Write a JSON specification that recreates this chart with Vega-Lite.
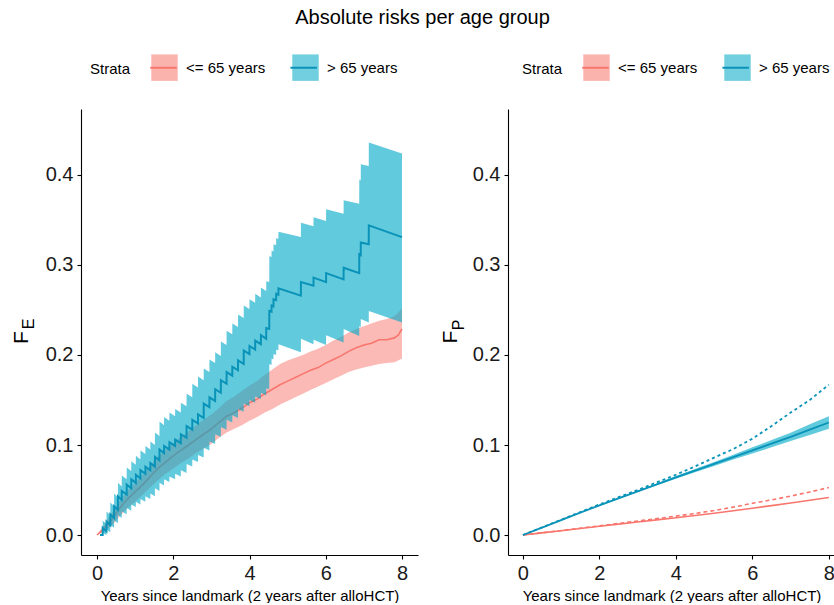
{
"$schema": "https://vega.github.io/schema/vega-lite/v6.json",
"padding": {"left": 10, "top": 8, "right": 0, "bottom": 0},
"title": {"text": "Absolute risks per age group", "fontSize": 20, "fontWeight": "normal", "color": "#000", "anchor": "middle", "offset": 25},
"config": {
 "font": "Liberation Sans",
 "view": {"stroke": null},
 "axis": {"domainColor": "#000", "domainWidth": 1.1, "tickColor": "#000", "tickWidth": 1.1, "tickSize": 4, "labelFontSize": 20, "labelColor": "#1a1a1a", "grid": false, "titleFontWeight": "normal", "titleColor": "#000", "labelPadding": 4},
 "legend": {"titleFontSize": 15, "titleFontWeight": "normal", "titleColor": "#000", "labelFontSize": 15, "labelColor": "#000", "titleOrient": "left", "titleAnchor": "middle", "titleBaseline": "middle", "titlePadding": 19, "labelOffset": 7, "columnPadding": 22, "symbolSize": 700, "direction": "horizontal", "orient": "none", "padding": 0}
},
"datasets": {
 "fe": [
  {"t":0,"s":"<= 65 years","est":0,"lo":0,"hi":0},
  {"t":0.2,"s":"<= 65 years","est":0.008,"lo":0.004,"hi":0.012},
  {"t":0.4,"s":"<= 65 years","est":0.018,"lo":0.011,"hi":0.025},
  {"t":0.6,"s":"<= 65 years","est":0.030,"lo":0.021,"hi":0.038},
  {"t":0.8,"s":"<= 65 years","est":0.040,"lo":0.030,"hi":0.049},
  {"t":1.0,"s":"<= 65 years","est":0.048,"lo":0.037,"hi":0.058},
  {"t":1.2,"s":"<= 65 years","est":0.056,"lo":0.045,"hi":0.067},
  {"t":1.4,"s":"<= 65 years","est":0.065,"lo":0.053,"hi":0.077},
  {"t":1.6,"s":"<= 65 years","est":0.074,"lo":0.061,"hi":0.087},
  {"t":1.8,"s":"<= 65 years","est":0.081,"lo":0.068,"hi":0.095},
  {"t":2.0,"s":"<= 65 years","est":0.088,"lo":0.074,"hi":0.102},
  {"t":2.2,"s":"<= 65 years","est":0.094,"lo":0.080,"hi":0.109},
  {"t":2.4,"s":"<= 65 years","est":0.100,"lo":0.085,"hi":0.115},
  {"t":2.6,"s":"<= 65 years","est":0.106,"lo":0.091,"hi":0.122},
  {"t":2.8,"s":"<= 65 years","est":0.112,"lo":0.096,"hi":0.128},
  {"t":3.0,"s":"<= 65 years","est":0.118,"lo":0.101,"hi":0.134},
  {"t":3.2,"s":"<= 65 years","est":0.125,"lo":0.108,"hi":0.141},
  {"t":3.4,"s":"<= 65 years","est":0.132,"lo":0.114,"hi":0.149},
  {"t":3.6,"s":"<= 65 years","est":0.136,"lo":0.118,"hi":0.154},
  {"t":3.8,"s":"<= 65 years","est":0.141,"lo":0.122,"hi":0.160},
  {"t":4.0,"s":"<= 65 years","est":0.147,"lo":0.127,"hi":0.166},
  {"t":4.2,"s":"<= 65 years","est":0.151,"lo":0.131,"hi":0.171},
  {"t":4.4,"s":"<= 65 years","est":0.157,"lo":0.136,"hi":0.178},
  {"t":4.6,"s":"<= 65 years","est":0.162,"lo":0.140,"hi":0.184},
  {"t":4.8,"s":"<= 65 years","est":0.167,"lo":0.145,"hi":0.190},
  {"t":5.0,"s":"<= 65 years","est":0.171,"lo":0.149,"hi":0.194},
  {"t":5.2,"s":"<= 65 years","est":0.175,"lo":0.153,"hi":0.197},
  {"t":5.4,"s":"<= 65 years","est":0.179,"lo":0.157,"hi":0.200},
  {"t":5.6,"s":"<= 65 years","est":0.183,"lo":0.161,"hi":0.204},
  {"t":5.8,"s":"<= 65 years","est":0.186,"lo":0.165,"hi":0.207},
  {"t":6.0,"s":"<= 65 years","est":0.191,"lo":0.169,"hi":0.211},
  {"t":6.2,"s":"<= 65 years","est":0.195,"lo":0.173,"hi":0.216},
  {"t":6.4,"s":"<= 65 years","est":0.199,"lo":0.177,"hi":0.220},
  {"t":6.6,"s":"<= 65 years","est":0.204,"lo":0.181,"hi":0.225},
  {"t":6.8,"s":"<= 65 years","est":0.208,"lo":0.184,"hi":0.229},
  {"t":7.0,"s":"<= 65 years","est":0.211,"lo":0.186,"hi":0.232},
  {"t":7.2,"s":"<= 65 years","est":0.213,"lo":0.188,"hi":0.235},
  {"t":7.4,"s":"<= 65 years","est":0.217,"lo":0.190,"hi":0.238},
  {"t":7.6,"s":"<= 65 years","est":0.217,"lo":0.191,"hi":0.240},
  {"t":7.8,"s":"<= 65 years","est":0.219,"lo":0.192,"hi":0.243},
  {"t":7.9,"s":"<= 65 years","est":0.222,"lo":0.194,"hi":0.247},
  {"t":8.0,"s":"<= 65 years","est":0.229,"lo":0.196,"hi":0.252},
  {"t":0.08,"s":"> 65 years","est":0,"lo":0,"hi":0},
  {"t":0.148,"s":"> 65 years","est":0,"lo":0,"hi":0},
  {"t":0.15,"s":"> 65 years","est":0.008,"lo":0.002,"hi":0.016},
  {"t":0.248,"s":"> 65 years","est":0.004,"lo":0.000,"hi":0.012},
  {"t":0.25,"s":"> 65 years","est":0.015,"lo":0.006,"hi":0.026},
  {"t":0.348,"s":"> 65 years","est":0.011,"lo":0.003,"hi":0.022},
  {"t":0.35,"s":"> 65 years","est":0.023,"lo":0.011,"hi":0.036},
  {"t":0.448,"s":"> 65 years","est":0.019,"lo":0.008,"hi":0.032},
  {"t":0.45,"s":"> 65 years","est":0.032,"lo":0.016,"hi":0.046},
  {"t":0.548,"s":"> 65 years","est":0.028,"lo":0.013,"hi":0.042},
  {"t":0.55,"s":"> 65 years","est":0.043,"lo":0.022,"hi":0.058},
  {"t":0.648,"s":"> 65 years","est":0.039,"lo":0.019,"hi":0.054},
  {"t":0.65,"s":"> 65 years","est":0.049,"lo":0.026,"hi":0.066},
  {"t":0.778,"s":"> 65 years","est":0.045,"lo":0.023,"hi":0.062},
  {"t":0.78,"s":"> 65 years","est":0.056,"lo":0.030,"hi":0.075},
  {"t":0.898,"s":"> 65 years","est":0.052,"lo":0.027,"hi":0.071},
  {"t":0.90,"s":"> 65 years","est":0.062,"lo":0.034,"hi":0.082},
  {"t":1.018,"s":"> 65 years","est":0.058,"lo":0.031,"hi":0.078},
  {"t":1.02,"s":"> 65 years","est":0.067,"lo":0.037,"hi":0.088},
  {"t":1.138,"s":"> 65 years","est":0.063,"lo":0.034,"hi":0.084},
  {"t":1.14,"s":"> 65 years","est":0.072,"lo":0.040,"hi":0.094},
  {"t":1.268,"s":"> 65 years","est":0.068,"lo":0.037,"hi":0.090},
  {"t":1.27,"s":"> 65 years","est":0.076,"lo":0.043,"hi":0.099},
  {"t":1.398,"s":"> 65 years","est":0.072,"lo":0.040,"hi":0.095},
  {"t":1.40,"s":"> 65 years","est":0.080,"lo":0.046,"hi":0.104},
  {"t":1.518,"s":"> 65 years","est":0.076,"lo":0.043,"hi":0.100},
  {"t":1.52,"s":"> 65 years","est":0.087,"lo":0.052,"hi":0.114},
  {"t":1.638,"s":"> 65 years","est":0.083,"lo":0.049,"hi":0.110},
  {"t":1.64,"s":"> 65 years","est":0.095,"lo":0.058,"hi":0.126},
  {"t":1.758,"s":"> 65 years","est":0.091,"lo":0.055,"hi":0.122},
  {"t":1.76,"s":"> 65 years","est":0.099,"lo":0.062,"hi":0.131},
  {"t":1.898,"s":"> 65 years","est":0.095,"lo":0.059,"hi":0.127},
  {"t":1.90,"s":"> 65 years","est":0.103,"lo":0.065,"hi":0.136},
  {"t":2.048,"s":"> 65 years","est":0.099,"lo":0.062,"hi":0.132},
  {"t":2.05,"s":"> 65 years","est":0.106,"lo":0.068,"hi":0.140},
  {"t":2.198,"s":"> 65 years","est":0.102,"lo":0.065,"hi":0.136},
  {"t":2.20,"s":"> 65 years","est":0.112,"lo":0.072,"hi":0.147},
  {"t":2.348,"s":"> 65 years","est":0.108,"lo":0.069,"hi":0.143},
  {"t":2.35,"s":"> 65 years","est":0.121,"lo":0.079,"hi":0.157},
  {"t":2.498,"s":"> 65 years","est":0.117,"lo":0.076,"hi":0.153},
  {"t":2.50,"s":"> 65 years","est":0.128,"lo":0.084,"hi":0.168},
  {"t":2.648,"s":"> 65 years","est":0.124,"lo":0.081,"hi":0.164},
  {"t":2.65,"s":"> 65 years","est":0.134,"lo":0.089,"hi":0.176},
  {"t":2.798,"s":"> 65 years","est":0.130,"lo":0.086,"hi":0.172},
  {"t":2.80,"s":"> 65 years","est":0.146,"lo":0.097,"hi":0.185},
  {"t":2.948,"s":"> 65 years","est":0.142,"lo":0.094,"hi":0.181},
  {"t":2.95,"s":"> 65 years","est":0.153,"lo":0.104,"hi":0.195},
  {"t":3.098,"s":"> 65 years","est":0.149,"lo":0.101,"hi":0.191},
  {"t":3.10,"s":"> 65 years","est":0.162,"lo":0.112,"hi":0.203},
  {"t":3.248,"s":"> 65 years","est":0.158,"lo":0.109,"hi":0.199},
  {"t":3.25,"s":"> 65 years","est":0.172,"lo":0.120,"hi":0.215},
  {"t":3.398,"s":"> 65 years","est":0.168,"lo":0.117,"hi":0.211},
  {"t":3.40,"s":"> 65 years","est":0.181,"lo":0.128,"hi":0.227},
  {"t":3.548,"s":"> 65 years","est":0.177,"lo":0.125,"hi":0.223},
  {"t":3.55,"s":"> 65 years","est":0.187,"lo":0.133,"hi":0.235},
  {"t":3.698,"s":"> 65 years","est":0.183,"lo":0.130,"hi":0.231},
  {"t":3.70,"s":"> 65 years","est":0.194,"lo":0.140,"hi":0.245},
  {"t":3.848,"s":"> 65 years","est":0.190,"lo":0.137,"hi":0.241},
  {"t":3.85,"s":"> 65 years","est":0.205,"lo":0.146,"hi":0.255},
  {"t":3.998,"s":"> 65 years","est":0.201,"lo":0.143,"hi":0.251},
  {"t":4.00,"s":"> 65 years","est":0.210,"lo":0.150,"hi":0.262},
  {"t":4.148,"s":"> 65 years","est":0.206,"lo":0.147,"hi":0.258},
  {"t":4.15,"s":"> 65 years","est":0.216,"lo":0.154,"hi":0.268},
  {"t":4.298,"s":"> 65 years","est":0.212,"lo":0.151,"hi":0.264},
  {"t":4.30,"s":"> 65 years","est":0.222,"lo":0.158,"hi":0.275},
  {"t":4.438,"s":"> 65 years","est":0.218,"lo":0.155,"hi":0.271},
  {"t":4.44,"s":"> 65 years","est":0.230,"lo":0.163,"hi":0.282},
  {"t":4.518,"s":"> 65 years","est":0.229,"lo":0.162,"hi":0.281},
  {"t":4.52,"s":"> 65 years","est":0.249,"lo":0.190,"hi":0.310},
  {"t":4.578,"s":"> 65 years","est":0.248,"lo":0.189,"hi":0.309},
  {"t":4.58,"s":"> 65 years","est":0.255,"lo":0.196,"hi":0.316},
  {"t":4.628,"s":"> 65 years","est":0.254,"lo":0.195,"hi":0.315},
  {"t":4.63,"s":"> 65 years","est":0.262,"lo":0.201,"hi":0.323},
  {"t":4.698,"s":"> 65 years","est":0.261,"lo":0.200,"hi":0.322},
  {"t":4.70,"s":"> 65 years","est":0.268,"lo":0.206,"hi":0.330},
  {"t":4.758,"s":"> 65 years","est":0.267,"lo":0.205,"hi":0.329},
  {"t":4.76,"s":"> 65 years","est":0.274,"lo":0.212,"hi":0.337},
  {"t":5.348,"s":"> 65 years","est":0.266,"lo":0.203,"hi":0.331},
  {"t":5.35,"s":"> 65 years","est":0.281,"lo":0.218,"hi":0.347},
  {"t":5.678,"s":"> 65 years","est":0.277,"lo":0.212,"hi":0.343},
  {"t":5.68,"s":"> 65 years","est":0.286,"lo":0.217,"hi":0.353},
  {"t":6.008,"s":"> 65 years","est":0.281,"lo":0.211,"hi":0.349},
  {"t":6.01,"s":"> 65 years","est":0.291,"lo":0.222,"hi":0.362},
  {"t":6.468,"s":"> 65 years","est":0.284,"lo":0.214,"hi":0.357},
  {"t":6.47,"s":"> 65 years","est":0.297,"lo":0.229,"hi":0.372},
  {"t":6.878,"s":"> 65 years","est":0.291,"lo":0.221,"hi":0.368},
  {"t":6.88,"s":"> 65 years","est":0.312,"lo":0.232,"hi":0.395},
  {"t":6.918,"s":"> 65 years","est":0.311,"lo":0.231,"hi":0.394},
  {"t":6.92,"s":"> 65 years","est":0.325,"lo":0.240,"hi":0.412},
  {"t":7.128,"s":"> 65 years","est":0.323,"lo":0.236,"hi":0.410},
  {"t":7.13,"s":"> 65 years","est":0.344,"lo":0.249,"hi":0.436},
  {"t":8.0,"s":"> 65 years","est":0.331,"lo":0.236,"hi":0.424}
 ],
 "fp": [
  {"t":0,"s":"<= 65 years","est":0,"lo":0,"hi":0,"obs":0},
  {"t":0.5,"s":"<= 65 years","est":0.0024,"lo":0.0024,"hi":0.0024,"obs":0.0025},
  {"t":1,"s":"<= 65 years","est":0.0048,"lo":0.0048,"hi":0.0048,"obs":0.0050},
  {"t":1.5,"s":"<= 65 years","est":0.0073,"lo":0.0073,"hi":0.0073,"obs":0.0076},
  {"t":2,"s":"<= 65 years","est":0.0098,"lo":0.0098,"hi":0.0098,"obs":0.0102},
  {"t":2.5,"s":"<= 65 years","est":0.0121,"lo":0.0121,"hi":0.0121,"obs":0.0128},
  {"t":3,"s":"<= 65 years","est":0.0145,"lo":0.0145,"hi":0.0145,"obs":0.0155},
  {"t":3.5,"s":"<= 65 years","est":0.0168,"lo":0.0168,"hi":0.0168,"obs":0.0182},
  {"t":4,"s":"<= 65 years","est":0.0192,"lo":0.0192,"hi":0.0192,"obs":0.0210},
  {"t":4.5,"s":"<= 65 years","est":0.0217,"lo":0.0217,"hi":0.0217,"obs":0.0240},
  {"t":5,"s":"<= 65 years","est":0.0242,"lo":0.0242,"hi":0.0242,"obs":0.0272},
  {"t":5.5,"s":"<= 65 years","est":0.0270,"lo":0.0270,"hi":0.0270,"obs":0.0310},
  {"t":6,"s":"<= 65 years","est":0.0298,"lo":0.0298,"hi":0.0298,"obs":0.0352},
  {"t":6.5,"s":"<= 65 years","est":0.0327,"lo":0.0327,"hi":0.0327,"obs":0.0390},
  {"t":7,"s":"<= 65 years","est":0.0356,"lo":0.0356,"hi":0.0356,"obs":0.0432},
  {"t":7.5,"s":"<= 65 years","est":0.0386,"lo":0.0386,"hi":0.0386,"obs":0.0478},
  {"t":8,"s":"<= 65 years","est":0.0417,"lo":0.0417,"hi":0.0417,"obs":0.0528},
  {"t":0,"s":"> 65 years","est":0,"lo":0,"hi":0,"obs":0},
  {"t":0.5,"s":"> 65 years","est":0.0083,"lo":0.0082,"hi":0.0084,"obs":0.0085},
  {"t":1,"s":"> 65 years","est":0.0165,"lo":0.0163,"hi":0.0167,"obs":0.0170},
  {"t":1.5,"s":"> 65 years","est":0.0248,"lo":0.0245,"hi":0.0251,"obs":0.0255},
  {"t":2,"s":"> 65 years","est":0.0330,"lo":0.0325,"hi":0.0335,"obs":0.0340},
  {"t":2.5,"s":"> 65 years","est":0.0408,"lo":0.0402,"hi":0.0414,"obs":0.0420},
  {"t":3,"s":"> 65 years","est":0.0485,"lo":0.0477,"hi":0.0493,"obs":0.0500},
  {"t":3.5,"s":"> 65 years","est":0.0563,"lo":0.0553,"hi":0.0573,"obs":0.0585},
  {"t":4,"s":"> 65 years","est":0.0640,"lo":0.0625,"hi":0.0655,"obs":0.0670},
  {"t":4.5,"s":"> 65 years","est":0.0715,"lo":0.0697,"hi":0.0733,"obs":0.0762},
  {"t":5,"s":"> 65 years","est":0.0790,"lo":0.0768,"hi":0.0812,"obs":0.0860},
  {"t":5.5,"s":"> 65 years","est":0.0865,"lo":0.0838,"hi":0.0892,"obs":0.0955},
  {"t":6,"s":"> 65 years","est":0.0940,"lo":0.0905,"hi":0.0975,"obs":0.1070},
  {"t":6.5,"s":"> 65 years","est":0.1015,"lo":0.0975,"hi":0.1055,"obs":0.1210},
  {"t":7,"s":"> 65 years","est":0.1090,"lo":0.1045,"hi":0.1135,"obs":0.1360},
  {"t":7.5,"s":"> 65 years","est":0.1170,"lo":0.1110,"hi":0.1230,"obs":0.1500},
  {"t":8,"s":"> 65 years","est":0.1250,"lo":0.1180,"hi":0.1320,"obs":0.1670}
 ]
},
"spacing": 21,
"resolve": {"scale": {"fill": "independent", "stroke": "independent"}, "legend": {"fill": "independent", "stroke": "independent"}},
"hconcat": [
 {
  "width": 337, "height": 446,
  "data": {"name": "fe"},
  "layer": [
   {"layer": [
    {"transform": [{"filter": "datum.s === '<= 65 years'"}],
     "mark": {"type": "area", "opacity": 0.5},
     "encoding": {
      "x": {"field": "t", "type": "quantitative", "scale": {"domain": [-0.42, 8.42], "nice": false, "zero": false}, "axis": {"values": [0,2,4,6,8], "format": "d", "labelFlush": false, "title": "Years since landmark (2 years after alloHCT)", "titleFontSize": 15, "titlePadding": 5}},
      "y": {"field": "lo", "type": "quantitative", "scale": {"domain": [-0.0222, 0.4733], "nice": false, "zero": false}, "axis": {"values": [0,0.1,0.2,0.3,0.4], "format": ".1f", "title": "F", "titleFontSize": 21, "titleAngle": 270, "titleX": -54, "titleY": 228, "titleAlign": "center", "titleBaseline": "alphabetic"}},
      "y2": {"field": "hi"},
      "fill": {"field": "s", "type": "nominal", "scale": {"domain": ["<= 65 years", "> 65 years"], "range": ["#F8766D", "#00A9C8"]},
        "legend": {"title": "Strata", "orient": "none", "legendX": 9, "legendY": -56, "symbolType": "square", "symbolOpacity": 0.55, "symbolStrokeWidth": 2, "symbolStrokeColor": "transparent"}}
     }},
    {"transform": [{"filter": "datum.s === '<= 65 years'"}],
     "mark": {"type": "line", "strokeWidth": 1.6},
     "encoding": {
      "x": {"field": "t", "type": "quantitative", "scale": {"domain": [-0.42, 8.42], "nice": false, "zero": false}},
      "y": {"field": "est", "type": "quantitative", "scale": {"domain": [-0.0222, 0.4733], "nice": false, "zero": false}, "axis": {"values": [0,0.1,0.2,0.3,0.4], "format": ".1f", "title": "F", "titleFontSize": 21, "titleAngle": 270, "titleX": -54, "titleY": 228, "titleAlign": "center", "titleBaseline": "alphabetic"}},
      "stroke": {"field": "s", "type": "nominal", "scale": {"domain": ["> 65 years", "<= 65 years"], "range": ["#0A93B8", "#F8766D"]},
        "legend": {"title": null, "orient": "none", "legendX": 68, "legendY": -56, "values": ["<= 65 years", "> 65 years"], "labelExpr": "''", "columnPadding": 101.2, "symbolType": "stroke", "symbolStrokeWidth": 2, "symbolOpacity": 1}}
     }},
    {"transform": [{"filter": "datum.s === '> 65 years'"}],
     "mark": {"type": "area", "opacity": 0.62},
     "encoding": {
      "x": {"field": "t", "type": "quantitative", "scale": {"domain": [-0.42, 8.42], "nice": false, "zero": false}},
      "y": {"field": "lo", "type": "quantitative", "scale": {"domain": [-0.0222, 0.4733], "nice": false, "zero": false}, "axis": {"values": [0,0.1,0.2,0.3,0.4], "format": ".1f", "title": "F", "titleFontSize": 21, "titleAngle": 270, "titleX": -54, "titleY": 228, "titleAlign": "center", "titleBaseline": "alphabetic"}},
      "y2": {"field": "hi"},
      "fill": {"field": "s", "type": "nominal", "scale": {"domain": ["<= 65 years", "> 65 years"], "range": ["#F8766D", "#00A9C8"]},
        "legend": {"title": "Strata", "orient": "none", "legendX": 9, "legendY": -56, "symbolType": "square", "symbolOpacity": 0.55, "symbolStrokeWidth": 2, "symbolStrokeColor": "transparent"}}
     }}
   ]},
   {"transform": [{"filter": "datum.s === '> 65 years'"}],
    "mark": {"type": "line", "strokeWidth": 2},
    "encoding": {
     "x": {"field": "t", "type": "quantitative", "scale": {"domain": [-0.42, 8.42], "nice": false, "zero": false}},
     "y": {"field": "est", "type": "quantitative", "scale": {"domain": [-0.0222, 0.4733], "nice": false, "zero": false}, "axis": {"orient": "left", "domain": false, "ticks": false, "labels": false, "grid": false, "title": "E", "titleFontSize": 16, "titleAngle": 270, "titleX": -48, "titleY": 214.5, "titleAlign": "center", "titleBaseline": "alphabetic"}},
     "stroke": {"field": "s", "type": "nominal", "scale": {"domain": ["> 65 years", "<= 65 years"], "range": ["#0A93B8", "#F8766D"]},
        "legend": {"title": null, "orient": "none", "legendX": 68, "legendY": -56, "values": ["<= 65 years", "> 65 years"], "labelExpr": "''", "columnPadding": 101.2, "symbolType": "stroke", "symbolStrokeWidth": 2, "symbolOpacity": 1}}
    }}
  ],
  "resolve": {"scale": {"y": "independent"}, "axis": {"y": "independent"}}
 },
 {
  "width": 327, "height": 446,
  "data": {"name": "fp"},
  "layer": [
   {"layer": [
    {"transform": [{"filter": "datum.s === '> 65 years'"}],
     "mark": {"type": "area", "opacity": 0.62},
     "encoding": {
      "x": {"field": "t", "type": "quantitative", "scale": {"domain": [-0.39, 8.16], "nice": false, "zero": false}, "axis": {"values": [0,2,4,6,8], "format": "d", "labelFlush": false, "title": "Years since landmark (2 years after alloHCT)", "titleFontSize": 15, "titlePadding": 5}},
      "y": {"field": "lo", "type": "quantitative", "scale": {"domain": [-0.0222, 0.4733], "nice": false, "zero": false}, "axis": {"values": [0,0.1,0.2,0.3,0.4], "format": ".1f", "title": "F", "titleFontSize": 21, "titleAngle": 270, "titleX": -52, "titleY": 227.5, "titleAlign": "center", "titleBaseline": "alphabetic"}},
      "y2": {"field": "hi"},
      "fill": {"field": "s", "type": "nominal", "scale": {"domain": ["<= 65 years", "> 65 years"], "range": ["#F8766D", "#00A9C8"]},
        "legend": {"title": "Strata", "orient": "none", "legendX": 14, "legendY": -56, "symbolType": "square", "symbolOpacity": 0.55, "symbolStrokeWidth": 2, "symbolStrokeColor": "transparent"}}
     }},
    {"transform": [{"filter": "datum.s === '<= 65 years'"}],
     "mark": {"type": "line", "strokeWidth": 1.6},
     "encoding": {
      "x": {"field": "t", "type": "quantitative", "scale": {"domain": [-0.39, 8.16], "nice": false, "zero": false}},
      "y": {"field": "est", "type": "quantitative", "scale": {"domain": [-0.0222, 0.4733], "nice": false, "zero": false}, "axis": {"values": [0,0.1,0.2,0.3,0.4], "format": ".1f", "title": "F", "titleFontSize": 21, "titleAngle": 270, "titleX": -52, "titleY": 227.5, "titleAlign": "center", "titleBaseline": "alphabetic"}},
      "stroke": {"field": "s", "type": "nominal", "scale": {"domain": ["> 65 years", "<= 65 years"], "range": ["#0A93B8", "#F8766D"]},
        "legend": {"title": null, "orient": "none", "legendX": 73, "legendY": -56, "values": ["<= 65 years", "> 65 years"], "labelExpr": "''", "columnPadding": 101.2, "symbolType": "stroke", "symbolStrokeWidth": 2, "symbolOpacity": 1}}
     }},
    {"transform": [{"filter": "datum.s === '<= 65 years'"}],
     "mark": {"type": "line", "strokeWidth": 1.6, "strokeDash": [4, 3]},
     "encoding": {
      "x": {"field": "t", "type": "quantitative", "scale": {"domain": [-0.39, 8.16], "nice": false, "zero": false}},
      "y": {"field": "obs", "type": "quantitative", "scale": {"domain": [-0.0222, 0.4733], "nice": false, "zero": false}, "axis": {"values": [0,0.1,0.2,0.3,0.4], "format": ".1f", "title": "F", "titleFontSize": 21, "titleAngle": 270, "titleX": -52, "titleY": 227.5, "titleAlign": "center", "titleBaseline": "alphabetic"}},
      "stroke": {"field": "s", "type": "nominal", "scale": {"domain": ["> 65 years", "<= 65 years"], "range": ["#0A93B8", "#F8766D"]},
        "legend": {"title": null, "orient": "none", "legendX": 73, "legendY": -56, "values": ["<= 65 years", "> 65 years"], "labelExpr": "''", "columnPadding": 101.2, "symbolType": "stroke", "symbolStrokeWidth": 2, "symbolOpacity": 1}}
     }},
    {"transform": [{"filter": "datum.s === '> 65 years'"}],
     "mark": {"type": "line", "strokeWidth": 1.8},
     "encoding": {
      "x": {"field": "t", "type": "quantitative", "scale": {"domain": [-0.39, 8.16], "nice": false, "zero": false}},
      "y": {"field": "est", "type": "quantitative", "scale": {"domain": [-0.0222, 0.4733], "nice": false, "zero": false}, "axis": {"values": [0,0.1,0.2,0.3,0.4], "format": ".1f", "title": "F", "titleFontSize": 21, "titleAngle": 270, "titleX": -52, "titleY": 227.5, "titleAlign": "center", "titleBaseline": "alphabetic"}},
      "stroke": {"field": "s", "type": "nominal", "scale": {"domain": ["> 65 years", "<= 65 years"], "range": ["#0A93B8", "#F8766D"]},
        "legend": {"title": null, "orient": "none", "legendX": 73, "legendY": -56, "values": ["<= 65 years", "> 65 years"], "labelExpr": "''", "columnPadding": 101.2, "symbolType": "stroke", "symbolStrokeWidth": 2, "symbolOpacity": 1}}
     }}
   ]},
   {"transform": [{"filter": "datum.s === '> 65 years'"}],
    "mark": {"type": "line", "strokeWidth": 1.8, "strokeDash": [3, 3]},
    "encoding": {
     "x": {"field": "t", "type": "quantitative", "scale": {"domain": [-0.39, 8.16], "nice": false, "zero": false}},
     "y": {"field": "obs", "type": "quantitative", "scale": {"domain": [-0.0222, 0.4733], "nice": false, "zero": false}, "axis": {"orient": "left", "domain": false, "ticks": false, "labels": false, "grid": false, "title": "P", "titleFontSize": 16, "titleAngle": 270, "titleX": -45, "titleY": 215.5, "titleAlign": "center", "titleBaseline": "alphabetic"}},
     "stroke": {"field": "s", "type": "nominal", "scale": {"domain": ["> 65 years", "<= 65 years"], "range": ["#0A93B8", "#F8766D"]},
        "legend": {"title": null, "orient": "none", "legendX": 73, "legendY": -56, "values": ["<= 65 years", "> 65 years"], "labelExpr": "''", "columnPadding": 101.2, "symbolType": "stroke", "symbolStrokeWidth": 2, "symbolOpacity": 1}}
    }}
  ],
  "resolve": {"scale": {"y": "independent"}, "axis": {"y": "independent"}}
 }
]
}
